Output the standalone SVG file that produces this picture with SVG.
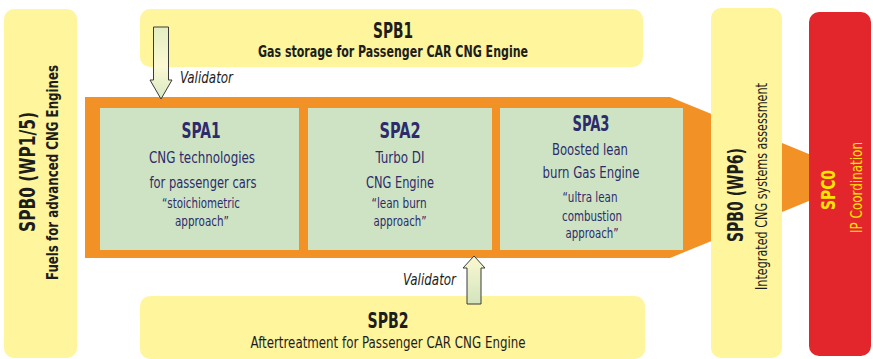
<svg xmlns="http://www.w3.org/2000/svg" width="873" height="359" viewBox="0 0 873 359">
  <defs>
    <linearGradient id="gradDown" x1="0" y1="0" x2="0" y2="1">
      <stop offset="0" stop-color="#e4eec2"/>
      <stop offset="0.55" stop-color="#fbf9d3"/>
      <stop offset="1" stop-color="#d8e8c4"/>
    </linearGradient>
    <linearGradient id="gradUp" x1="0" y1="0" x2="0" y2="1">
      <stop offset="0" stop-color="#fbf9d0"/>
      <stop offset="1" stop-color="#d2e4bf"/>
    </linearGradient>
    <style>
      .yellow { fill: #fff59d; }
      .green { fill: #cee3c4; }
      .orange { fill: #f29226; }
      .red { fill: #e3262b; }
      text { font-family: "Liberation Sans Narrow", "DejaVu Sans Condensed", "Liberation Sans", sans-serif; }
      .dark { fill: #1d1d1b; }
      .navy { fill: #2d2b6b; }
      .gold { fill: #ffe500; }
      .bold { font-weight: bold; }
      .mid { text-anchor: middle; }
      .t22 { font-size: 22px; }
      .t20 { font-size: 20px; }
      .t16 { font-size: 16px; }
      .t15 { font-size: 15px; }
      .t14 { font-size: 14px; }
      .ital { font-style: italic; font-size: 15px; fill: #1d1d1b; }
      .arrow { stroke: #3a3a3a; stroke-width: 1; }
    </style>
  </defs>

  <!-- SPA frame: orange arrow pointing at the coordination block -->
  <g id="spa-frame">
    <polygon class="orange" points="85,97 670,97 866,177.5 670,258 85,258"/>
  </g>

  <!-- left column: fuels -->
  <g id="spb0-fuels">
    <rect class="yellow" x="4" y="9" width="73" height="349" rx="10"/>
    <text class="dark bold t22 mid" transform="translate(35,172) rotate(-90)" textLength="120" lengthAdjust="spacingAndGlyphs">SPB0 (WP1/5)</text>
    <text class="dark bold t15 mid" transform="translate(58,172.5) rotate(-90)" textLength="215" lengthAdjust="spacingAndGlyphs">Fuels for advanced CNG Engines</text>
  </g>

  <!-- top band: gas storage -->
  <g id="spb1">
    <rect class="yellow" x="140" y="9" width="503" height="58" rx="10"/>
    <text class="dark bold t22 mid" x="393" y="38" textLength="40" lengthAdjust="spacingAndGlyphs">SPB1</text>
    <text class="dark bold t16 mid" x="393" y="57" textLength="270" lengthAdjust="spacingAndGlyphs">Gas storage for Passenger CAR CNG Engine</text>
  </g>

  <!-- bottom band: aftertreatment -->
  <g id="spb2">
    <rect class="yellow" x="140" y="296" width="505" height="63" rx="10"/>
    <text class="dark bold t22 mid" x="388" y="328" textLength="41" lengthAdjust="spacingAndGlyphs">SPB2</text>
    <text class="dark t16 mid" x="388" y="348" textLength="275" lengthAdjust="spacingAndGlyphs">Aftertreatment for Passenger CAR CNG Engine</text>
  </g>

  <!-- sub-projects inside the frame -->
  <g id="spa1">
    <rect class="green" x="100" y="108" width="199" height="142"/>
    <text class="navy bold t22 mid" x="201" y="138" textLength="39" lengthAdjust="spacingAndGlyphs">SPA1</text>
    <text class="navy t16 mid" x="202" y="163" textLength="106" lengthAdjust="spacingAndGlyphs">CNG technologies</text>
    <text class="navy t16 mid" x="203" y="188" textLength="107" lengthAdjust="spacingAndGlyphs">for passenger cars</text>
    <text class="navy t14 mid" x="201" y="208" textLength="78" lengthAdjust="spacingAndGlyphs">“stoichiometric</text>
    <text class="navy t14 mid" x="202" y="226" textLength="54" lengthAdjust="spacingAndGlyphs">approach”</text>
  </g>

  <g id="spa2">
    <rect class="green" x="308" y="108" width="184" height="142"/>
    <text class="navy bold t22 mid" x="400" y="138" textLength="41" lengthAdjust="spacingAndGlyphs">SPA2</text>
    <text class="navy t16 mid" x="400" y="163" textLength="49" lengthAdjust="spacingAndGlyphs">Turbo DI</text>
    <text class="navy t16 mid" x="400" y="188" textLength="68" lengthAdjust="spacingAndGlyphs">CNG Engine</text>
    <text class="navy t14 mid" x="399" y="208" textLength="55" lengthAdjust="spacingAndGlyphs">“lean burn</text>
    <text class="navy t14 mid" x="400" y="226" textLength="53" lengthAdjust="spacingAndGlyphs">approach”</text>
  </g>

  <g id="spa3">
    <rect class="green" x="500" y="108" width="183" height="142"/>
    <text class="navy bold t22 mid" x="591" y="131" textLength="37" lengthAdjust="spacingAndGlyphs">SPA3</text>
    <text class="navy t16 mid" x="590" y="155" textLength="76" lengthAdjust="spacingAndGlyphs">Boosted lean</text>
    <text class="navy t16 mid" x="591" y="178" textLength="97" lengthAdjust="spacingAndGlyphs">burn Gas Engine</text>
    <text class="navy t14 mid" x="590" y="202" textLength="55" lengthAdjust="spacingAndGlyphs">“ultra lean</text>
    <text class="navy t14 mid" x="592" y="221" textLength="60" lengthAdjust="spacingAndGlyphs">combustion</text>
    <text class="navy t14 mid" x="592" y="238" textLength="53" lengthAdjust="spacingAndGlyphs">approach”</text>
  </g>

  <!-- right column: systems assessment -->
  <g id="spb0-wp6">
    <rect class="yellow" x="711" y="8" width="71" height="350" rx="10"/>
    <text class="dark bold t22 mid" transform="translate(743,195) rotate(-90)" textLength="94" lengthAdjust="spacingAndGlyphs">SPB0 (WP6)</text>
    <text class="dark t16 mid" transform="translate(767,186.5) rotate(-90)" textLength="207" lengthAdjust="spacingAndGlyphs">Integrated CNG systems assessment</text>
  </g>

  <!-- coordination block -->
  <g id="spc0">
    <rect class="red" x="809" y="12" width="62" height="344" rx="10"/>
    <text class="gold bold t20 mid" transform="translate(835,190) rotate(-90)" textLength="40" lengthAdjust="spacingAndGlyphs">SPC0</text>
    <text class="gold t16 mid" transform="translate(862,187.5) rotate(-90)" textLength="91" lengthAdjust="spacingAndGlyphs">IP Coordination</text>
  </g>

  <!-- validator links -->
  <g id="connectors">
    <polygon class="arrow" fill="url(#gradDown)" points="153.5,27 168.5,27 168.5,80 172,80 161,99 150,80 153.5,80"/>
    <text class="ital" x="180" y="83" textLength="53" lengthAdjust="spacingAndGlyphs">Validator</text>
    <polygon class="arrow" fill="url(#gradUp)" points="474,256 485,268 481,268 481,304 467,304 467,268 463,268"/>
    <text class="ital" x="403" y="285" textLength="53" lengthAdjust="spacingAndGlyphs">Validator</text>
  </g>
</svg>
